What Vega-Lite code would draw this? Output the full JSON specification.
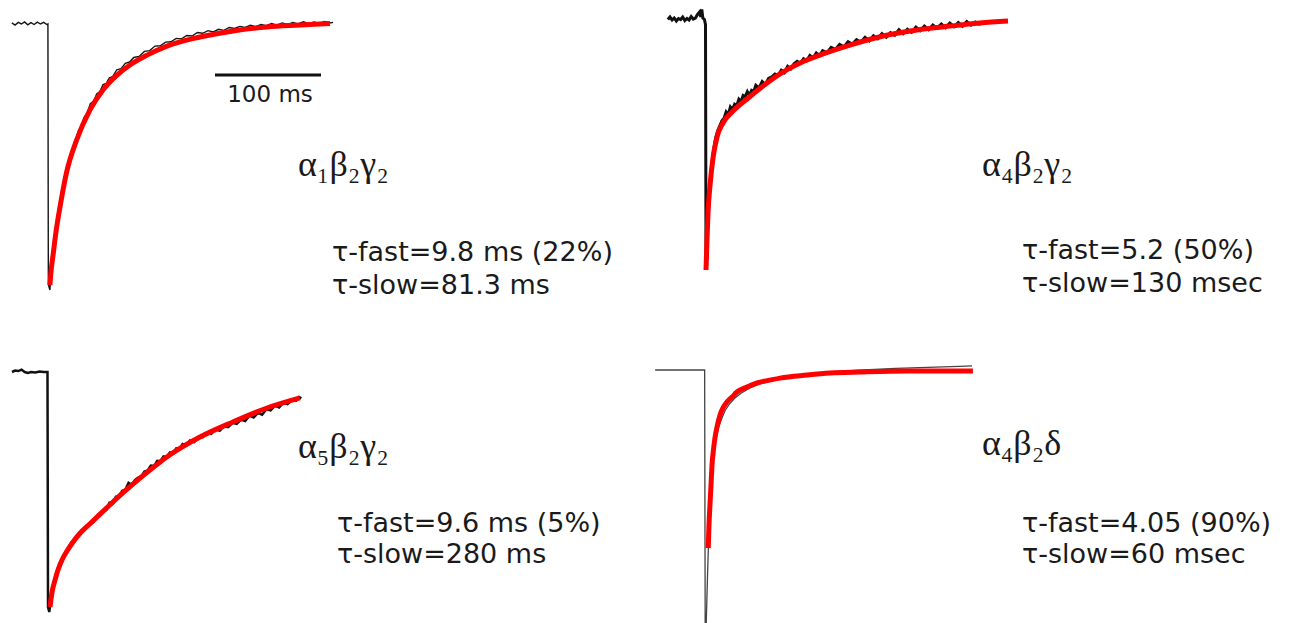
{
  "$schema": "https://vega.github.io/schema/vega-lite/v6.json",
  "padding": 0,
  "background": "white",
  "bounds": "flush",
  "columns": 2,
  "spacing": {"row": 13, "column": 9},
  "config": {"view": {"stroke": null}},
  "datasets": {
    "tl_trace": [
      {"time":-35,"current":0.004},{"time":-32,"current":-0.004},{"time":-29,"current":0.006},{"time":-26,"current":0.0},{"time":-23,"current":0.008},{"time":-20,"current":-0.003},{"time":-17,"current":0.005},{"time":-14,"current":-0.002},{"time":-11,"current":0.007},{"time":-8,"current":0.0},{"time":-5,"current":0.006},{"time":-2,"current":-0.002},{"time":-1,"current":0.0},{"time":-0.6,"current":-0.98},{"time":0.9,"current":-1.0},{"time":2,"current":-0.915},{"time":4,"current":-0.848},{"time":6,"current":-0.782},{"time":8,"current":-0.735},{"time":10,"current":-0.684},{"time":12,"current":-0.634},{"time":14,"current":-0.602},{"time":16,"current":-0.55},{"time":18,"current":-0.527},{"time":20,"current":-0.494},{"time":22,"current":-0.476},{"time":24,"current":-0.442},{"time":26,"current":-0.425},{"time":28,"current":-0.398},{"time":30,"current":-0.389},{"time":33,"current":-0.352},{"time":36,"current":-0.335},{"time":39,"current":-0.3},{"time":42,"current":-0.291},{"time":45,"current":-0.263},{"time":48,"current":-0.254},{"time":51,"current":-0.228},{"time":54,"current":-0.223},{"time":57,"current":-0.202},{"time":60,"current":-0.198},{"time":64,"current":-0.172},{"time":68,"current":-0.168},{"time":72,"current":-0.148},{"time":76,"current":-0.143},{"time":80,"current":-0.126},{"time":85,"current":-0.122},{"time":90,"current":-0.103},{"time":95,"current":-0.1},{"time":100,"current":-0.083},{"time":105,"current":-0.082},{"time":110,"current":-0.068},{"time":115,"current":-0.067},{"time":120,"current":-0.054},{"time":125,"current":-0.056},{"time":130,"current":-0.043},{"time":135,"current":-0.045},{"time":140,"current":-0.032},{"time":145,"current":-0.035},{"time":150,"current":-0.025},{"time":155,"current":-0.03},{"time":160,"current":-0.02},{"time":165,"current":-0.024},{"time":170,"current":-0.013},{"time":175,"current":-0.017},{"time":180,"current":-0.009},{"time":185,"current":-0.013},{"time":190,"current":-0.005},{"time":195,"current":-0.01},{"time":200,"current":-0.002},{"time":205,"current":-0.006},{"time":210,"current":0.002},{"time":215,"current":-0.004},{"time":220,"current":0.004},{"time":225,"current":-0.002},{"time":230,"current":0.006},{"time":235,"current":0.0},{"time":240,"current":0.008},{"time":245,"current":0.001},{"time":250,"current":0.008},{"time":255,"current":0.002},{"time":260,"current":0.009},{"time":265,"current":0.004},{"time":268,"current":0.006}
    ],
    "tl_fit": [
      {"time":0.9,"current":-0.981},{"time":1.9,"current":-0.932},{"time":4.1,"current":-0.861},{"time":6.6,"current":-0.782},{"time":10.4,"current":-0.688},{"time":16.7,"current":-0.556},{"time":26.1,"current":-0.436},{"time":38.7,"current":-0.323},{"time":50.9,"current":-0.248},{"time":64.2,"current":-0.192},{"time":76.4,"current":-0.154},{"time":92.5,"current":-0.117},{"time":111.3,"current":-0.083},{"time":142.5,"current":-0.049},{"time":173.6,"current":-0.026},{"time":205.7,"current":-0.011},{"time":236.8,"current":-0.004},{"time":265.1,"current":0.002}
    ],
    "tr_trace": [
      {"time":-36,"current":-0.01},{"time":-34,"current":0.0},{"time":-32,"current":-0.012},{"time":-30,"current":-0.004},{"time":-28,"current":-0.016},{"time":-26,"current":-0.006},{"time":-24,"current":-0.01},{"time":-22,"current":0.0},{"time":-20,"current":-0.014},{"time":-18,"current":-0.006},{"time":-16,"current":-0.012},{"time":-14,"current":0.002},{"time":-12,"current":-0.008},{"time":-10,"current":-0.004},{"time":-8,"current":0.01},{"time":-6,"current":0.02},{"time":-5,"current":0.0},{"time":-4,"current":0.03},{"time":-3,"current":-0.004},{"time":-1.5,"current":-0.01},{"time":-0.5,"current":-0.03},{"time":0,"current":-0.99},{"time":0.8,"current":-0.95},{"time":1.5,"current":-0.8},{"time":3,"current":-0.7},{"time":5,"current":-0.6},{"time":7,"current":-0.53},{"time":9,"current":-0.48},{"time":11,"current":-0.45},{"time":13,"current":-0.43},{"time":15,"current":-0.41},{"time":17,"current":-0.4},{"time":19,"current":-0.375},{"time":21,"current":-0.385},{"time":23,"current":-0.355},{"time":25,"current":-0.365},{"time":27,"current":-0.345},{"time":29,"current":-0.35},{"time":31,"current":-0.325},{"time":33,"current":-0.335},{"time":35,"current":-0.31},{"time":37,"current":-0.315},{"time":39,"current":-0.295},{"time":41,"current":-0.31},{"time":43,"current":-0.29},{"time":45,"current":-0.295},{"time":47,"current":-0.27},{"time":50,"current":-0.28},{"time":53,"current":-0.255},{"time":56,"current":-0.267},{"time":59,"current":-0.243},{"time":62,"current":-0.237},{"time":65,"current":-0.225},{"time":68,"current":-0.231},{"time":71,"current":-0.21},{"time":74,"current":-0.22},{"time":77,"current":-0.195},{"time":80,"current":-0.205},{"time":83,"current":-0.185},{"time":86,"current":-0.175},{"time":89,"current":-0.183},{"time":92,"current":-0.165},{"time":95,"current":-0.172},{"time":98,"current":-0.152},{"time":101,"current":-0.162},{"time":104,"current":-0.142},{"time":107,"current":-0.153},{"time":110,"current":-0.133},{"time":114,"current":-0.142},{"time":118,"current":-0.12},{"time":122,"current":-0.128},{"time":126,"current":-0.108},{"time":130,"current":-0.118},{"time":134,"current":-0.098},{"time":138,"current":-0.108},{"time":142,"current":-0.09},{"time":146,"current":-0.1},{"time":150,"current":-0.08},{"time":154,"current":-0.094},{"time":158,"current":-0.074},{"time":162,"current":-0.086},{"time":166,"current":-0.066},{"time":170,"current":-0.08},{"time":174,"current":-0.062},{"time":178,"current":-0.072},{"time":182,"current":-0.05},{"time":186,"current":-0.066},{"time":190,"current":-0.048},{"time":194,"current":-0.06},{"time":198,"current":-0.04},{"time":202,"current":-0.054},{"time":206,"current":-0.036},{"time":210,"current":-0.05},{"time":214,"current":-0.032},{"time":218,"current":-0.044},{"time":222,"current":-0.028},{"time":226,"current":-0.042},{"time":230,"current":-0.024},{"time":234,"current":-0.038},{"time":238,"current":-0.022},{"time":242,"current":-0.036},{"time":246,"current":-0.018},{"time":250,"current":-0.032},{"time":254,"current":-0.02},{"time":258,"current":-0.028},{"time":261,"current":-0.022}
    ],
    "tr_fit": [
      {"time":0,"current":-1.0},{"time":0.9,"current":-0.881},{"time":1.9,"current":-0.771},{"time":3.8,"current":-0.664},{"time":6.6,"current":-0.557},{"time":10.4,"current":-0.474},{"time":16.0,"current":-0.419},{"time":25.5,"current":-0.372},{"time":38.7,"current":-0.324},{"time":53.8,"current":-0.273},{"time":69.8,"current":-0.225},{"time":88.7,"current":-0.182},{"time":110.4,"current":-0.146},{"time":135.8,"current":-0.111},{"time":167.0,"current":-0.075},{"time":199.1,"current":-0.051},{"time":230.2,"current":-0.036},{"time":258.5,"current":-0.024},{"time":284.9,"current":-0.016}
    ],
    "bl_trace": [
      {"time":-34,"current":0.0},{"time":-31,"current":0.006},{"time":-28,"current":0.004},{"time":-25,"current":0.01},{"time":-22,"current":0.0},{"time":-19,"current":-0.004},{"time":-16,"current":0.0},{"time":-12,"current":-0.002},{"time":-8,"current":0.002},{"time":-4,"current":0.0},{"time":-0.5,"current":0.0},{"time":0,"current":-0.98},{"time":1.2,"current":-1.0},{"time":2.5,"current":-0.95},{"time":4,"current":-0.905},{"time":6,"current":-0.87},{"time":8,"current":-0.845},{"time":10,"current":-0.82},{"time":13,"current":-0.785},{"time":16,"current":-0.758},{"time":19,"current":-0.735},{"time":22,"current":-0.71},{"time":25,"current":-0.7},{"time":28,"current":-0.685},{"time":31,"current":-0.67},{"time":34,"current":-0.66},{"time":37,"current":-0.645},{"time":40,"current":-0.635},{"time":43,"current":-0.625},{"time":46,"current":-0.605},{"time":49,"current":-0.6},{"time":52,"current":-0.58},{"time":55,"current":-0.575},{"time":58,"current":-0.545},{"time":61,"current":-0.548},{"time":64,"current":-0.52},{"time":67,"current":-0.52},{"time":70,"current":-0.495},{"time":73,"current":-0.49},{"time":76,"current":-0.462},{"time":79,"current":-0.47},{"time":82,"current":-0.45},{"time":85,"current":-0.44},{"time":88,"current":-0.435},{"time":91,"current":-0.415},{"time":94,"current":-0.41},{"time":97,"current":-0.39},{"time":100,"current":-0.392},{"time":103,"current":-0.37},{"time":106,"current":-0.372},{"time":109,"current":-0.352},{"time":112,"current":-0.355},{"time":115,"current":-0.335},{"time":118,"current":-0.338},{"time":121,"current":-0.318},{"time":124,"current":-0.32},{"time":127,"current":-0.3},{"time":130,"current":-0.305},{"time":134,"current":-0.285},{"time":138,"current":-0.292},{"time":142,"current":-0.27},{"time":146,"current":-0.272},{"time":150,"current":-0.252},{"time":154,"current":-0.258},{"time":158,"current":-0.238},{"time":162,"current":-0.245},{"time":166,"current":-0.226},{"time":170,"current":-0.23},{"time":174,"current":-0.212},{"time":178,"current":-0.216},{"time":182,"current":-0.198},{"time":186,"current":-0.204},{"time":190,"current":-0.182},{"time":194,"current":-0.19},{"time":198,"current":-0.17},{"time":202,"current":-0.178},{"time":206,"current":-0.155},{"time":210,"current":-0.16},{"time":214,"current":-0.14},{"time":218,"current":-0.148},{"time":222,"current":-0.128},{"time":226,"current":-0.134},{"time":230,"current":-0.118},{"time":234,"current":-0.12},{"time":237,"current":-0.105},{"time":239,"current":-0.11}
    ],
    "bl_fit": [
      {"time":1.9,"current":-0.979},{"time":3.8,"current":-0.917},{"time":6.6,"current":-0.867},{"time":9.4,"current":-0.825},{"time":13.2,"current":-0.783},{"time":17.9,"current":-0.746},{"time":23.6,"current":-0.708},{"time":30.2,"current":-0.672},{"time":39.6,"current":-0.632},{"time":49.1,"current":-0.592},{"time":58.5,"current":-0.553},{"time":70.8,"current":-0.503},{"time":86.8,"current":-0.442},{"time":102.8,"current":-0.385},{"time":115.1,"current":-0.345},{"time":143.4,"current":-0.271},{"time":174.5,"current":-0.208},{"time":206.6,"current":-0.15},{"time":237.7,"current":-0.108}
    ],
    "br_trace": [
      {"time":-47,"current":0.0},{"time":-0.3,"current":0.0},{"time":0.2,"current":-1.0},{"time":1.2,"current":-1.0},{"time":2.5,"current":-0.8},{"time":3.5,"current":-0.66},{"time":4.5,"current":-0.54},{"time":5.5,"current":-0.45},{"time":6.8,"current":-0.38},{"time":8.5,"current":-0.32},{"time":10.5,"current":-0.27},{"time":13,"current":-0.225},{"time":16,"current":-0.19},{"time":19,"current":-0.16},{"time":23,"current":-0.135},{"time":28,"current":-0.112},{"time":34,"current":-0.092},{"time":42,"current":-0.072},{"time":52,"current":-0.055},{"time":65,"current":-0.04},{"time":80,"current":-0.028},{"time":100,"current":-0.016},{"time":125,"current":-0.006},{"time":150,"current":0.0},{"time":180,"current":0.006},{"time":210,"current":0.01},{"time":240,"current":0.014},{"time":252,"current":0.016}
    ],
    "br_fit": [
      {"time":3.1,"current":-0.704},{"time":3.8,"current":-0.613},{"time":4.7,"current":-0.534},{"time":5.7,"current":-0.455},{"time":6.6,"current":-0.379},{"time":8.0,"current":-0.316},{"time":9.4,"current":-0.269},{"time":11.8,"current":-0.217},{"time":14.2,"current":-0.178},{"time":17.0,"current":-0.15},{"time":20.8,"current":-0.126},{"time":25.5,"current":-0.107},{"time":30.2,"current":-0.087},{"time":39.6,"current":-0.067},{"time":49.1,"current":-0.051},{"time":61.3,"current":-0.04},{"time":70.8,"current":-0.032},{"time":96.2,"current":-0.02},{"time":117.9,"current":-0.012},{"time":146.2,"current":-0.008},{"time":190.6,"current":-0.004},{"time":221.7,"current":-0.004},{"time":252.8,"current":-0.004}
    ],
    "labels": [
      {"panel":"TL","kind":"subunits","time":234.9,"current":-0.571,"text":"α₁β₂γ₂"},
      {"panel":"TL","kind":"tau","time":267,"current":-0.891,"text":"τ-fast=9.8 ms (22%)"},
      {"panel":"TL","kind":"tau","time":267,"current":-1.015,"text":"τ-slow=81.3 ms"},
      {"panel":"TL","kind":"scale","time":208.5,"current":-0.293,"text":"100 ms"},
      {"panel":"TR","kind":"subunits","time":260.4,"current":-0.628,"text":"α₄β₂γ₂"},
      {"panel":"TR","kind":"tau","time":298.1,"current":-0.957,"text":"τ-fast=5.2 (50%)"},
      {"panel":"TR","kind":"tau","time":298.1,"current":-1.087,"text":"τ-slow=130 msec"},
      {"panel":"BL","kind":"subunits","time":235.8,"current":-0.358,"text":"α₅β₂γ₂"},
      {"panel":"BL","kind":"tau","time":272.6,"current":-0.665,"text":"τ-fast=9.6 ms (5%)"},
      {"panel":"BL","kind":"tau","time":272.6,"current":-0.796,"text":"τ-slow=280 ms"},
      {"panel":"BR","kind":"subunits","time":261.3,"current":-0.336,"text":"α₄β₂δ"},
      {"panel":"BR","kind":"tau","time":299.1,"current":-0.639,"text":"τ-fast=4.05 (90%)"},
      {"panel":"BR","kind":"tau","time":299.1,"current":-0.764,"text":"τ-slow=60 msec"}
    ],
    "scalebar": [{"time":156.6,"time_end":256.6,"current":-0.192}]
  },
  "concat": [
    {
      "width": 640, "height": 305,
      "encoding": {
        "x": {"field":"time","type":"quantitative","scale":{"domain":[-46.2,557.5],"nice":false,"zero":false},"axis":null},
        "y": {"field":"current","type":"quantitative","scale":{"domain":[-1.0564,0.0902],"nice":false,"zero":false},"axis":null}
      },
      "layer": [
        {"data":{"name":"tl_trace"},"mark":{"type":"line","color":"#151515","strokeWidth":1.4}},
        {"data":{"name":"tl_fit"},"mark":{"type":"line","color":"#ff0000","strokeWidth":5,"interpolate":"monotone"}},
        {"data":{"name":"scalebar"},"mark":{"type":"rule","color":"#111","strokeWidth":3},"encoding":{"x2":{"field":"time_end"}}},
        {"data":{"name":"labels"},"transform":[{"filter":"datum.panel === 'TL' && datum.kind === 'scale'"}],"mark":{"type":"text","font":"DejaVu Sans","fontSize":23,"align":"center","baseline":"alphabetic","color":"#1a1a1a"},"encoding":{"text":{"field":"text"}}},
        {"data":{"name":"labels"},"transform":[{"filter":"datum.panel === 'TL' && datum.kind === 'subunits'"}],"mark":{"type":"text","font":"Liberation Serif","fontSize":36,"align":"left","baseline":"alphabetic","color":"#1a1a1a"},"encoding":{"text":{"field":"text"}}},
        {"data":{"name":"labels"},"transform":[{"filter":"datum.panel === 'TL' && datum.kind === 'tau'"}],"mark":{"type":"text","font":"DejaVu Sans","fontSize":27,"align":"left","baseline":"alphabetic","color":"#1a1a1a"},"encoding":{"text":{"field":"text"}}}
      ]
    },
    {
      "width": 640, "height": 305,
      "encoding": {
        "x": {"field":"time","type":"quantitative","scale":{"domain":[-53.8,550.0],"nice":false,"zero":false},"axis":null},
        "y": {"field":"current","type":"quantitative","scale":{"domain":[-1.1383,0.0672],"nice":false,"zero":false},"axis":null}
      },
      "layer": [
        {"data":{"name":"tr_trace"},"mark":{"type":"line","color":"#111","strokeWidth":3}},
        {"data":{"name":"tr_fit"},"mark":{"type":"line","color":"#ff0000","strokeWidth":5,"interpolate":"monotone"}},
        {"data":{"name":"labels"},"transform":[{"filter":"datum.panel === 'TR' && datum.kind === 'subunits'"}],"mark":{"type":"text","font":"Liberation Serif","fontSize":36,"align":"left","baseline":"alphabetic","color":"#1a1a1a"},"encoding":{"text":{"field":"text"}}},
        {"data":{"name":"labels"},"transform":[{"filter":"datum.panel === 'TR' && datum.kind === 'tau'"}],"mark":{"type":"text","font":"DejaVu Sans","fontSize":27,"align":"left","baseline":"alphabetic","color":"#1a1a1a"},"encoding":{"text":{"field":"text"}}}
      ]
    },
    {
      "width": 640, "height": 305,
      "encoding": {
        "x": {"field":"time","type":"quantitative","scale":{"domain":[-45.3,558.5],"nice":false,"zero":false},"axis":null},
        "y": {"field":"current","type":"quantitative","scale":{"domain":[-1.0458,0.225],"nice":false,"zero":false},"axis":null}
      },
      "layer": [
        {"data":{"name":"bl_trace"},"mark":{"type":"line","color":"#111","strokeWidth":2.5}},
        {"data":{"name":"bl_fit"},"mark":{"type":"line","color":"#ff0000","strokeWidth":5,"interpolate":"monotone"}},
        {"data":{"name":"labels"},"transform":[{"filter":"datum.panel === 'BL' && datum.kind === 'subunits'"}],"mark":{"type":"text","font":"Liberation Serif","fontSize":36,"align":"left","baseline":"alphabetic","color":"#1a1a1a"},"encoding":{"text":{"field":"text"}}},
        {"data":{"name":"labels"},"transform":[{"filter":"datum.panel === 'BL' && datum.kind === 'tau'"}],"mark":{"type":"text","font":"DejaVu Sans","fontSize":27,"align":"left","baseline":"alphabetic","color":"#1a1a1a"},"encoding":{"text":{"field":"text"}}}
      ]
    },
    {
      "width": 640, "height": 305,
      "encoding": {
        "x": {"field":"time","type":"quantitative","scale":{"domain":[-52.8,551.0],"nice":false,"zero":false},"axis":null},
        "y": {"field":"current","type":"quantitative","scale":{"domain":[-1.0,0.2055],"nice":false,"zero":false},"axis":null}
      },
      "layer": [
        {"data":{"name":"br_trace"},"mark":{"type":"line","color":"#444","strokeWidth":1.3}},
        {"data":{"name":"br_fit"},"mark":{"type":"line","color":"#ff0000","strokeWidth":5,"interpolate":"monotone"}},
        {"data":{"name":"labels"},"transform":[{"filter":"datum.panel === 'BR' && datum.kind === 'subunits'"}],"mark":{"type":"text","font":"Liberation Serif","fontSize":36,"align":"left","baseline":"alphabetic","color":"#1a1a1a"},"encoding":{"text":{"field":"text"}}},
        {"data":{"name":"labels"},"transform":[{"filter":"datum.panel === 'BR' && datum.kind === 'tau'"}],"mark":{"type":"text","font":"DejaVu Sans","fontSize":27,"align":"left","baseline":"alphabetic","color":"#1a1a1a"},"encoding":{"text":{"field":"text"}}}
      ]
    }
  ]
}
